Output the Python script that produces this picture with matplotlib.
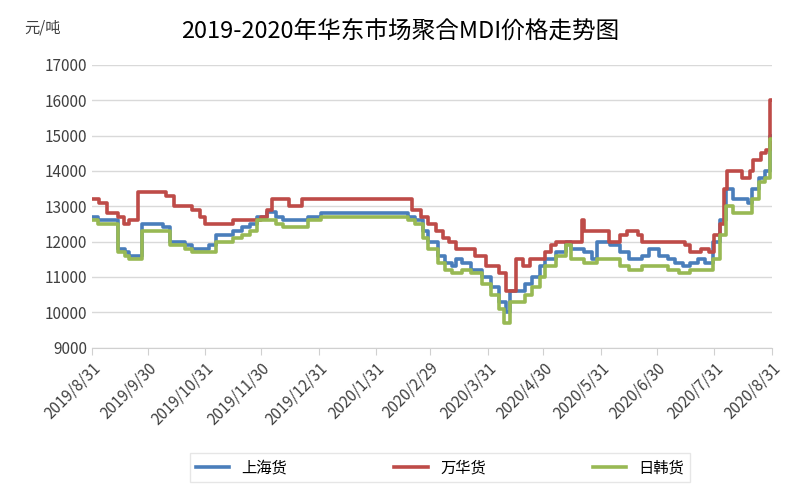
import matplotlib
matplotlib.use("Agg")
import matplotlib.pyplot as plt
from matplotlib import font_manager
import pandas as pd

names = {f.name for f in font_manager.fontManager.ttflist}
cjk = [n for n in ["Noto Sans CJK SC", "Noto Sans CJK JP", "Noto Sans CJK TC", "Noto Sans CJK KR", "Noto Sans SC"] if n in names]
plt.rcParams['font.family'] = cjk + ['DejaVu Sans']

sh_dates = ["2019-08-31","2019-09-03","2019-09-10","2019-09-14","2019-09-18","2019-09-20","2019-09-27","2019-10-08","2019-10-12","2019-10-20","2019-10-24","2019-11-02","2019-11-06","2019-11-15","2019-11-20","2019-11-24","2019-11-28","2019-12-03","2019-12-08","2019-12-12","2019-12-25","2020-01-01","2020-02-14","2020-02-17","2020-02-21","2020-02-25","2020-02-28","2020-03-04","2020-03-08","2020-03-12","2020-03-14","2020-03-17","2020-03-22","2020-03-28","2020-04-02","2020-04-06","2020-04-10","2020-04-12","2020-04-16","2020-04-20","2020-04-24","2020-04-28","2020-05-01","2020-05-07","2020-05-12","2020-05-15","2020-05-22","2020-05-26","2020-05-29","2020-06-05","2020-06-10","2020-06-15","2020-06-22","2020-06-26","2020-07-01","2020-07-06","2020-07-10","2020-07-14","2020-07-18","2020-07-22","2020-07-26","2020-07-30","2020-08-03","2020-08-06","2020-08-10","2020-08-18","2020-08-20","2020-08-24","2020-08-27","2020-08-30","2020-08-31"]
sh_vals = [12700,12600,12600,11800,11700,11600,12500,12400,12000,11900,11800,11900,12200,12300,12400,12500,12700,12850,12700,12600,12700,12800,12800,12700,12600,12300,12000,11600,11400,11300,11500,11400,11200,11000,10700,10300,10000,10600,10600,10800,11000,11300,11500,11700,12000,11800,11700,11500,12000,11900,11700,11500,11600,11800,11600,11500,11400,11300,11400,11500,11400,12000,12600,13500,13200,13100,13500,13800,14000,15000,15000]

wh_dates = ["2019-08-31","2019-09-04","2019-09-08","2019-09-14","2019-09-17","2019-09-20","2019-09-25","2019-10-10","2019-10-14","2019-10-24","2019-10-28","2019-10-31","2019-11-15","2019-11-30","2019-12-03","2019-12-06","2019-12-15","2019-12-22","2020-02-17","2020-02-19","2020-02-24","2020-02-28","2020-03-03","2020-03-07","2020-03-10","2020-03-14","2020-03-24","2020-03-30","2020-04-06","2020-04-10","2020-04-15","2020-04-19","2020-04-23","2020-05-01","2020-05-04","2020-05-07","2020-05-21","2020-05-22","2020-06-04","2020-06-10","2020-06-14","2020-06-20","2020-06-22","2020-07-15","2020-07-18","2020-07-24","2020-07-28","2020-07-31","2020-08-03","2020-08-05","2020-08-07","2020-08-15","2020-08-19","2020-08-21","2020-08-25","2020-08-28","2020-08-30","2020-08-31"]
wh_vals = [13200,13100,12800,12700,12500,12600,13400,13300,13000,12900,12700,12500,12600,12700,12900,13200,13000,13200,13200,12900,12700,12500,12300,12100,12000,11800,11600,11300,11100,10600,11500,11300,11500,11700,11900,12000,12600,12300,12000,12200,12300,12200,12000,11900,11700,11800,11700,12200,12500,13500,14000,13800,14000,14300,14500,14600,16000,16000]

rh_dates = ["2019-08-31","2019-09-03","2019-09-10","2019-09-14","2019-09-18","2019-09-20","2019-09-27","2019-10-08","2019-10-12","2019-10-20","2019-10-24","2019-11-02","2019-11-06","2019-11-15","2019-11-20","2019-11-24","2019-11-28","2019-12-08","2019-12-12","2019-12-25","2020-01-01","2020-02-14","2020-02-17","2020-02-21","2020-02-25","2020-02-28","2020-03-04","2020-03-08","2020-03-12","2020-03-17","2020-03-22","2020-03-28","2020-04-02","2020-04-06","2020-04-09","2020-04-12","2020-04-20","2020-04-24","2020-04-28","2020-05-01","2020-05-07","2020-05-12","2020-05-15","2020-05-22","2020-05-29","2020-06-10","2020-06-15","2020-06-22","2020-06-26","2020-07-06","2020-07-12","2020-07-18","2020-07-30","2020-08-03","2020-08-06","2020-08-10","2020-08-18","2020-08-20","2020-08-24","2020-08-27","2020-08-30","2020-08-31"]
rh_vals = [12600,12500,12500,11700,11600,11500,12300,12300,11900,11800,11700,11700,12000,12100,12200,12300,12600,12500,12400,12600,12700,12700,12600,12500,12100,11800,11400,11200,11100,11200,11100,10800,10500,10100,9700,10300,10500,10700,11000,11300,11600,11900,11500,11400,11500,11300,11200,11300,11300,11200,11100,11200,11500,12200,13000,12800,12800,13200,13700,13800,14900,14900]

series = [("上海货", sh_dates, sh_vals, "#4a7ebb"),
          ("万华货", wh_dates, wh_vals, "#be4b48"),
          ("日韩货", rh_dates, rh_vals, "#98b954")]

fig = plt.figure(figsize=(8, 5), dpi=100)
ax = fig.add_axes([0.115, 0.305, 0.85, 0.565])
for name, d, v, c in series:
    ax.step(pd.to_datetime(d), v, where="post", color=c, lw=2.6, label=name)

ax.set_ylim(9000, 17000)
ax.set_yticks(range(9000, 17001, 1000))
ax.set_xlim(pd.Timestamp("2019-08-31"), pd.Timestamp("2020-08-31"))
ticks = ["2019-08-31","2019-09-30","2019-10-31","2019-11-30","2019-12-31","2020-01-31","2020-02-29","2020-03-31","2020-04-30","2020-05-31","2020-06-30","2020-07-31","2020-08-31"]
tick_labels = ["2019/8/31","2019/9/30","2019/10/31","2019/11/30","2019/12/31","2020/1/31","2020/2/29","2020/3/31","2020/4/30","2020/5/31","2020/6/30","2020/7/31","2020/8/31"]
ax.set_xticks(pd.to_datetime(ticks))
ax.set_xticklabels(tick_labels, rotation=45, ha="right", rotation_mode="anchor", fontsize=11, color="#404040")
ax.tick_params(axis="y", labelsize=11, colors="#404040", length=0)
ax.tick_params(axis="x", length=5, color="#d0d0d0")
ax.grid(axis="y", color="#d9d9d9", lw=1)
for s in ["top", "right", "left"]:
    ax.spines[s].set_visible(False)
ax.spines["bottom"].set_color("#d0d0d0")
ax.set_axisbelow(True)

fig.text(0.03, 0.935, "元/吨", fontsize=11, color="#404040")
fig.text(0.5, 0.925, "2019-2020年华东市场聚合MDI价格走势图", fontsize=17, ha="center", color="#000000")
fig.legend(loc="center", bbox_to_anchor=(0.55, 0.065), ncol=3, frameon=True, fontsize=11,
           edgecolor="#e0e0e0", columnspacing=7, handlelength=2.2, fancybox=False)
fig.savefig("out.png")
